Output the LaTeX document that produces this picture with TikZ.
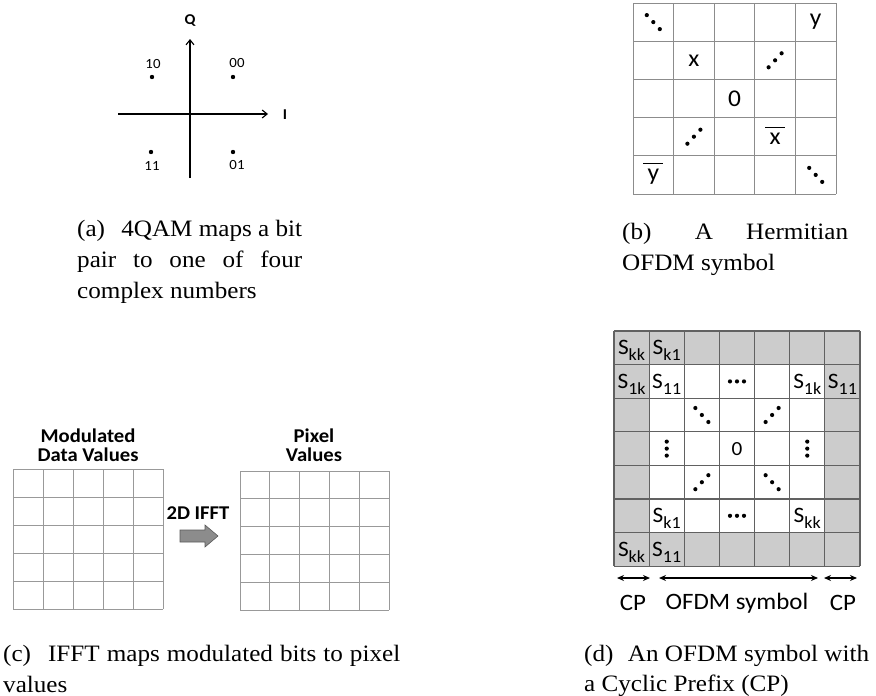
\documentclass[tikz,border=0pt]{standalone}
\usepackage{fontspec}
\usepackage{graphicx}
\setmainfont{Liberation Serif}[FakeStretch=1.07]
\newfontfamily\carl{Carlito}[FakeStretch=1.06]
\usetikzlibrary{arrows.meta}
\newcommand\Ssub[1]{S\raisebox{-6pt}{\fontsize{17}{17}\selectfont #1}}
\tikzset{
  capt/.style={anchor=base west, inner sep=0pt, font=\fontsize{23.5}{30}\selectfont},
  lab/.style={inner sep=0pt, font=\carl\fontsize{14}{14}\selectfont},
  axlab/.style={inner sep=0pt, font=\carl\bfseries\fontsize{15}{15}\selectfont},
  axis/.style={line width=1.1pt, -{Straight Barb[length=5pt,width=8pt]}},
  qdot/.style={circle, fill=black, inner sep=0pt, minimum size=4.4pt},
  bgrid/.style={draw=black!45, line width=0.9pt},
  btxt/.style={inner sep=0pt, font=\carl\fontsize{24}{24}\selectfont},
  bar/.style={line width=1.1pt},
  cgrid/.style={draw=black!40, line width=0.8pt},
  head/.style={align=center, inner sep=0pt, font=\carl\bfseries\fontsize{19.5}{19}\selectfont},
  fftarrow/.style={fill=black!45, draw=black!65, line width=0.6pt},
  dtxt/.style={inner sep=0pt, font=\carl\fontsize{22}{22}\selectfont},
  dS/.style={dtxt, anchor=base, yshift=-7pt},
  dgrid/.style={draw=black!62, line width=1.1pt},
  cpfill/.style={fill=black!20},
  dimarrow/.style={line width=1.3pt, {Stealth[length=7pt,width=6pt]}-{Stealth[length=7pt,width=6pt]}},
  dlab/.style={inner sep=0pt, font=\carl\fontsize{23.5}{23.5}\selectfont},
  ddots/.pic={\foreach \a/\b in {-6.5/7,0/0,6.5/-7} \fill (\a pt,\b pt) circle (2.1pt);},
  udots/.pic={\foreach \a/\b in {-6.5/-7,0/0,6.5/7} \fill (\a pt,\b pt) circle (2.1pt);},
  hdots/.pic={\foreach \a in {-7,0,7} \fill (\a pt,0pt) circle (2.1pt);},
  vdots/.pic={\foreach \b in {-7,0,7} \fill (0pt,\b pt) circle (2.1pt);},
}
\begin{document}
\begin{tikzpicture}[x=1pt,y=-1pt]
\useasboundingbox (0,0) rectangle (876,696);

% ---------- (a) 4QAM constellation ----------
\coordinate (vbot) at (190,178);
\coordinate (vtop) at (190,39);
\coordinate (hleft) at (118,114);
\coordinate (hright) at (268,114);
\draw[axis] (vbot) -- (vtop);
\draw[axis] (hleft) -- (hright);
\node[axlab] (Q) at (190,21) {Q};
\node[axlab] (I) at (285,115) {I};
\node[qdot] (d10) at (152,77) {};
\node[qdot] (d00) at (233,77) {};
\node[qdot] (d11) at (151,152) {};
\node[qdot] (d01) at (233,152) {};
\node[lab] (t10) at (153,64) {10};
\node[lab] (t00) at (237,63) {00};
\node[lab] (t11) at (152,166) {11};
\node[lab] (t01) at (237,165) {01};
\node[capt] (ca1) at (77,236) {\makebox[225pt][s]{(a)\hspace{10pt} 4QAM maps a bit}};
\node[capt] (ca2) at (77,267) {\makebox[225pt][s]{pair to one of four}};
\node[capt] (ca3) at (77,298) {complex numbers};

% ---------- (b) Hermitian OFDM symbol ----------
\begin{scope}[shift={(633,3)}, x=40.6pt, y=-38.2pt]
  \foreach \i in {0,...,5} {
    \draw[bgrid] (\i,0) -- (\i,5);
    \draw[bgrid] (0,\i) -- (5,\i);
  }
  \pic at (0.5,0.5) {ddots};
  \node[btxt] (by) at (4.5,0.5) {y};
  \node[btxt] (bx) at (1.5,1.5) {x};
  \pic at (3.5,1.5) {udots};
  \node[btxt] (b0) at (2.5,2.5) {0};
  \pic at (1.5,3.5) {udots};
  \node[btxt] (bxb) at (3.5,3.55) {x};
  \node[btxt] (byb) at (0.5,4.55) {y};
  \pic at (4.5,4.5) {ddots};
\end{scope}
\draw[bar] ([shift={(-4pt,5.5pt)}]bxb.north west) -- ([shift={(4pt,5.5pt)}]bxb.north east);
\draw[bar] ([shift={(-4pt,5.5pt)}]byb.north west) -- ([shift={(4pt,5.5pt)}]byb.north east);
\node[capt] (cb1) at (622,239) {\makebox[226pt][s]{(b)\hspace{10pt} A Hermitian}};
\node[capt] (cb2) at (622,270) {OFDM symbol};

% ---------- (c) IFFT ----------
\begin{scope}[shift={(13,469)}, x=30pt, y=-28pt]
  \foreach \i in {0,...,5} {
    \draw[cgrid] (\i,0) -- (\i,5);
    \draw[cgrid] (0,\i) -- (5,\i);
  }
\end{scope}
\begin{scope}[shift={(240,471)}, x=29.8pt, y=-27.8pt]
  \foreach \i in {0,...,5} {
    \draw[cgrid] (\i,0) -- (\i,5);
    \draw[cgrid] (0,\i) -- (5,\i);
  }
\end{scope}
\node[head] (hmod) at (88,445) {Modulated\\Data Values};
\node[head] (hpix) at (314,445) {Pixel\\Values};
\node[head] (ifft) at (198,513) {2D IFFT};
\draw[fftarrow] (180,530) -- (205,530) -- (205,525) -- (218,536) -- (205,547) -- (205,542) -- (180,542) -- cycle;
\node[capt] (cc1) at (3,661) {\makebox[397pt][s]{(c)\hspace{10pt} IFFT maps modulated bits to pixel}};
\node[capt] (cc2) at (3,692) {values};

% ---------- (d) OFDM symbol with CP ----------
\begin{scope}[shift={(614,331)}, x=35.14pt, y=-33.6pt]
  \fill[cpfill] (0,0) rectangle (7,7);
  \fill[white] (1,1) rectangle (6,6);
  \foreach \i in {0,...,7} {
    \draw[dgrid] (\i,0) -- (\i,7);
    \draw[dgrid] (0,\i) -- (7,\i);
  }
  \node[dS] (r0a) at (0.5,0.5) {\Ssub{kk}};
  \node[dS] (r0b) at (1.5,0.5) {\Ssub{k1}};
  \node[dS] (r1a) at (0.5,1.5) {\Ssub{1k}};
  \node[dS] (r1b) at (1.5,1.5) {\Ssub{11}};
  \pic at (3.5,1.5) {hdots};
  \node[dS] (r1c) at (5.5,1.5) {\Ssub{1k}};
  \node[dS] (r1d) at (6.5,1.5) {\Ssub{11}};
  \pic at (2.5,2.5) {ddots};
  \pic at (4.5,2.5) {udots};
  \pic at (1.5,3.5) {vdots};
  \node[dtxt, font=\carl\fontsize{20}{20}\selectfont] (d0) at (3.5,3.5) {0};
  \pic at (5.5,3.5) {vdots};
  \pic at (2.5,4.5) {udots};
  \pic at (4.5,4.5) {ddots};
  \node[dS] (r5a) at (1.5,5.5) {\Ssub{k1}};
  \pic at (3.5,5.5) {hdots};
  \node[dS] (r5b) at (5.5,5.5) {\Ssub{kk}};
  \node[dS] (r6a) at (0.5,6.5) {\Ssub{kk}};
  \node[dS] (r6b) at (1.5,6.5) {\Ssub{11}};
\end{scope}
\coordinate (cpl1) at (617,578);
\coordinate (cpl2) at (650,578);
\coordinate (sym1) at (659,578);
\coordinate (sym2) at (818,578);
\coordinate (cpr1) at (824,578);
\coordinate (cpr2) at (857,578);
\draw[dimarrow] (cpl1) -- (cpl2);
\draw[dimarrow] (sym1) -- (sym2);
\draw[dimarrow] (cpr1) -- (cpr2);
\node[dlab] (cpl) at (633,603) {CP};
\node[dlab] (sym) at (737,603) {OFDM symbol};
\node[dlab] (cpr) at (843,603) {CP};
\node[capt] (cd1) at (584,661) {\makebox[285pt][s]{(d)\hspace{8pt} An OFDM symbol with}};
\node[capt] (cd2) at (584,691) {a Cyclic Prefix (CP)};
\end{tikzpicture}
\end{document}
